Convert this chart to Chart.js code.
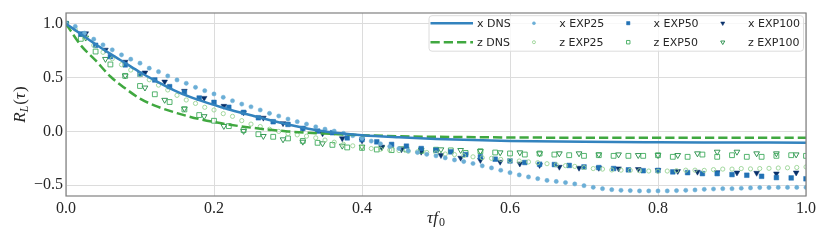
<!DOCTYPE html>
<html>
<head>
<meta charset="utf-8">
<script src="https://cdn.jsdelivr.net/npm/chart.js@4.4.1/dist/chart.umd.min.js"></script>
<style>
  html, body { margin: 0; padding: 0; background: #fff; }
  #wrap { width: 830px; height: 242px; }
</style>
</head>
<body>
<div id="wrap"><canvas id="chart"></canvas></div>
<script>
// Lags (tau * f0) for each data set
const tauDns = [0, 0.02, 0.04, 0.06, 0.08, 0.1, 0.12, 0.15, 0.18, 0.21, 0.25, 0.3, 0.35, 0.4, 0.45, 0.5, 0.6, 0.7, 0.8, 0.9, 1.0];
const tau25 = [0, 0.0125, 0.025, 0.0375, 0.05, 0.0625, 0.075, 0.0875, 0.1, 0.1125, 0.125, 0.1375, 0.15, 0.1625, 0.175, 0.1875,
  0.2, 0.2125, 0.225, 0.2375, 0.25, 0.2625, 0.275, 0.2875, 0.3, 0.3125, 0.325, 0.3375, 0.35, 0.3625, 0.375, 0.3875,
  0.4, 0.4125, 0.425, 0.4375, 0.45, 0.4625, 0.475, 0.4875, 0.5, 0.5125, 0.525, 0.5375, 0.55, 0.5625, 0.575, 0.5875,
  0.6, 0.6125, 0.625, 0.6375, 0.65, 0.6625, 0.675, 0.6875, 0.7, 0.7125, 0.725, 0.7375, 0.75, 0.7625, 0.775, 0.7875,
  0.8, 0.8125, 0.825, 0.8375, 0.85, 0.8625, 0.875, 0.8875, 0.9, 0.9125, 0.925, 0.9375, 0.95, 0.9625, 0.975, 0.9875, 1.0];
const tau50 = [0, 0.02, 0.04, 0.06, 0.08, 0.1, 0.12, 0.14, 0.16, 0.18, 0.2, 0.22, 0.24, 0.26, 0.28, 0.3, 0.32, 0.34,
  0.36, 0.38, 0.4, 0.42, 0.44, 0.46, 0.48, 0.5, 0.52, 0.54, 0.56, 0.58, 0.6, 0.62, 0.64, 0.66, 0.68, 0.7, 0.72, 0.74,
  0.76, 0.78, 0.8, 0.82, 0.84, 0.86, 0.88, 0.9, 0.92, 0.94, 0.96, 0.98, 1.0];
const tau100 = [0, 0.0267, 0.0533, 0.08, 0.1067, 0.1333, 0.16, 0.1867, 0.2133, 0.24, 0.2667, 0.2933, 0.32, 0.3467,
  0.3733, 0.4, 0.4267, 0.4533, 0.48, 0.5067, 0.5333, 0.56, 0.5867, 0.6133, 0.64, 0.6667, 0.6933, 0.72, 0.7467,
  0.7733, 0.8, 0.8267, 0.8533, 0.88, 0.9067, 0.9333, 0.96, 0.9867];

// Autocorrelation R_L
const xDns = [1.0, 0.905, 0.81, 0.72, 0.635, 0.55, 0.475, 0.37, 0.29, 0.225, 0.15, 0.065, 0.0, -0.035, -0.055, -0.07, -0.088, -0.097, -0.101, -0.103, -0.105];
const zDns = [1.0, 0.8, 0.66, 0.51, 0.4, 0.305, 0.24, 0.17, 0.115, 0.075, 0.035, 0.0, -0.02, -0.035, -0.045, -0.05, -0.056, -0.059, -0.06, -0.06, -0.06];

const xExp25 = [1.0, 0.975, 0.913, 0.857, 0.804, 0.758, 0.711, 0.671, 0.634, 0.587,
  0.555, 0.515, 0.478, 0.447, 0.41, 0.378, 0.348, 0.317, 0.285, 0.254,
  0.229, 0.199, 0.168, 0.143, 0.115, 0.09, 0.068, 0.043, 0.021, 0.003,
  -0.018, -0.04, -0.065, -0.09, -0.115, -0.14, -0.159, -0.18, -0.196, -0.213,
  -0.227, -0.246, -0.265, -0.28, -0.298, -0.32, -0.339, -0.361, -0.383, -0.404,
  -0.423, -0.439, -0.455, -0.465, -0.475, -0.488, -0.504, -0.519, -0.532, -0.541,
  -0.547, -0.55, -0.553, -0.553, -0.553, -0.553, -0.55, -0.547, -0.544, -0.538,
  -0.535, -0.532, -0.532, -0.528, -0.525, -0.522, -0.522, -0.52, -0.52, -0.52, -0.52];
const zExp25 = [1.0, 0.95, 0.87, 0.8, 0.735, 0.675, 0.62, 0.57, 0.525, 0.48,
  0.43, 0.385, 0.335, 0.292, 0.26, 0.224, 0.199, 0.165, 0.14, 0.1,
  0.068, 0.045, 0.02, 0.0, -0.02, -0.032, -0.044, -0.06, -0.08, -0.1,
  -0.12, -0.134, -0.145, -0.159, -0.165, -0.172, -0.178, -0.184, -0.19, -0.196,
  -0.2, -0.21, -0.215, -0.225, -0.236, -0.245, -0.25, -0.26, -0.27, -0.275,
  -0.283, -0.29, -0.3, -0.31, -0.318, -0.325, -0.336, -0.345, -0.35, -0.358,
  -0.36, -0.362, -0.365, -0.368, -0.37, -0.368, -0.365, -0.36, -0.36, -0.362,
  -0.355, -0.35, -0.35, -0.345, -0.348, -0.345, -0.343, -0.34, -0.338, -0.335, -0.33];
const xExp50 = [1.0, 0.905, 0.8, 0.695, 0.618, 0.531, 0.478, 0.416, 0.363, 0.31,
  0.27, 0.224, 0.177, 0.127, 0.09, 0.065, 0.028, 0.003, -0.012, -0.06,
  -0.075, -0.097, -0.121, -0.137, -0.159, -0.174, -0.19, -0.215, -0.236, -0.258,
  -0.274, -0.289, -0.305, -0.308, -0.316, -0.33, -0.336, -0.345, -0.357, -0.365,
  -0.362, -0.376, -0.383, -0.392, -0.392, -0.401, -0.407, -0.417, -0.429, -0.432, -0.44];
const zExp50 = [1.0, 0.86, 0.742, 0.622, 0.516, 0.422, 0.345, 0.273, 0.204, 0.152,
  0.099, 0.049, 0.012, -0.026, -0.05, -0.065, -0.088, -0.106, -0.125, -0.149,
  -0.153, -0.168, -0.174, -0.168, -0.18, -0.17, -0.176, -0.2, -0.184, -0.196,
  -0.205, -0.215, -0.205, -0.215, -0.221, -0.227, -0.221, -0.227, -0.227, -0.227,
  -0.221, -0.236, -0.236, -0.215, -0.236, -0.221, -0.236, -0.236, -0.227, -0.221, -0.227];
const xExp100 = [1.0, 0.91, 0.758, 0.646, 0.546, 0.462, 0.376, 0.31, 0.236, 0.175,
  0.126, 0.075, 0.028, -0.019, -0.065, -0.085, -0.143, -0.168, -0.19, -0.221,
  -0.246, -0.267, -0.283, -0.3, -0.314, -0.33, -0.339, -0.34, -0.345, -0.351,
  -0.36, -0.37, -0.376, -0.38, -0.383, -0.386, -0.392, -0.383];
const zExp100 = [1.0, 0.87, 0.672, 0.518, 0.406, 0.292, 0.212, 0.14, 0.049, 0.003,
  -0.044, -0.075, -0.097, -0.112, -0.134, -0.143, -0.15, -0.159, -0.17, -0.168,
  -0.174, -0.184, -0.196, -0.196, -0.205, -0.205, -0.205, -0.215, -0.215, -0.221,
  -0.221, -0.221, -0.205, -0.19, -0.19, -0.205, -0.205, -0.215];

const xTicks = [0, 0.2, 0.4, 0.6, 0.8, 1.0];
const yTicks = [-0.5, 0, 0.5, 1.0];

const pts = (xs, ys) => xs.map((x, i) => ({ x: x, y: ys[i] }));
const fmt = v => (v < 0 ? '\u2212' : '') + Math.abs(v).toFixed(1);

const lineSet = (label, xs, ys, color, dash) => ({
  label: label, data: pts(xs, ys), showLine: true, borderColor: color, borderWidth: 2.5,
  borderDash: dash, pointRadius: 0, cubicInterpolationMode: 'monotone', clip: 0
});
const markSet = (label, xs, ys, color, style, r, open) => ({
  label: label, data: pts(xs, ys), showLine: false, pointStyle: style,
  pointRotation: style === 'triangle' ? 180 : 0, pointRadius: r,
  pointBackgroundColor: open ? 'rgba(0,0,0,0)' : color, pointBorderColor: color,
  pointBorderWidth: open ? 0.9 : 0.5, clip: 0
});

const datasets = [
  lineSet('x DNS', tauDns, xDns, '#3383be', []),
  lineSet('z DNS', tauDns, zDns, '#40a840', [9.25, 4]),
  markSet('x EXP25', tau25, xExp25, '#6baed6', 'circle', 2.1, false),
  markSet('z EXP25', tau25, zExp25, '#98d494', 'circle', 2.1, true),
  markSet('x EXP50', tau50, xExp50, '#2171b5', 'rect', 3.3, false),
  markSet('z EXP50', tau50, zExp50, '#41ab5d', 'rect', 3.4, true),
  markSet('x EXP100', tau100, xExp100, '#08306b', 'triangle', 3.3, false),
  markSet('z EXP100', tau100, zExp100, '#238b45', 'triangle', 3.3, true)
];

// legend layout: column-major like the figure (x row on top, z row below)
const legendOrder = [['x DNS', 'z DNS'], ['x EXP25', 'z EXP25'], ['x EXP50', 'z EXP50'], ['x EXP100', 'z EXP100']];

function mathText(ctx, parts, x, y, center) {
  let w = 0;
  parts.forEach(p => {
    ctx.font = (p.it ? 'italic ' : '') + p.size + 'px "Liberation Serif"';
    p.w = ctx.measureText(p.t).width;
    w += p.w + (p.gap || 0);
  });
  let cx = center ? x - w / 2 : x;
  parts.forEach(p => {
    ctx.font = (p.it ? 'italic ' : '') + p.size + 'px "Liberation Serif"';
    ctx.fillText(p.t, cx, y + (p.dy || 0));
    cx += p.w + (p.gap || 0);
  });
}

const decor = {
  id: 'decor',
  afterDatasetsDraw(chart) {
    const ctx = chart.ctx;
    const a = chart.chartArea;
    ctx.save();
    // frame
    ctx.strokeStyle = '#808080';
    ctx.lineWidth = 1.2;
    ctx.strokeRect(a.left, a.top, a.right - a.left, a.bottom - a.top);

    // legend box
    const bx = a.right - 377, by = a.top + 2.7, bw = 374.5, bh = 35.5;
    ctx.beginPath();
    ctx.roundRect(bx, by, bw, bh, 3);
    ctx.fillStyle = 'rgba(255,255,255,0.8)';
    ctx.fill();
    ctx.strokeStyle = '#dcdcdc';
    ctx.lineWidth = 1;
    ctx.stroke();

    const colX = [1.5, 83.7, 178, 272.5], handleW = 42.5;
    const rows = [by + 7.5, by + 26.5];
    ctx.textBaseline = 'middle';
    legendOrder.forEach((col, ci) => {
      col.forEach((label, ri) => {
        const ds = datasets.find(d => d.label === label);
        const hx = bx + colX[ci];
        const hy = rows[ri];
        if (ds.showLine) {
          ctx.beginPath();
          ctx.setLineDash(ds.borderDash);
          ctx.strokeStyle = ds.borderColor;
          ctx.lineWidth = ds.borderWidth;
          ctx.moveTo(hx, hy);
          ctx.lineTo(hx + handleW, hy);
          ctx.stroke();
          ctx.setLineDash([]);
        } else {
          ctx.fillStyle = ds.pointBackgroundColor;
          ctx.strokeStyle = ds.pointBorderColor;
          ctx.lineWidth = ds.pointBorderWidth;
          Chart.helpers.drawPoint(ctx, {
            pointStyle: ds.pointStyle, rotation: ds.pointRotation,
            radius: ds.pointRadius * 0.72, borderWidth: ds.pointBorderWidth
          }, hx + handleW / 2, hy);
        }
        ctx.fillStyle = '#262626';
        ctx.font = '11px "DejaVu Sans"';
        ctx.fillText(label, hx + handleW + 4, hy + 0.5);
      });
    });
    ctx.restore();
  },
  afterDraw(chart) {
    const ctx = chart.ctx;
    const a = chart.chartArea;
    ctx.save();
    ctx.fillStyle = '#262626';
    ctx.textBaseline = 'alphabetic';
    // x axis title: tau f_0
    mathText(ctx, [
      { t: '\u03c4', it: true, size: 17 },
      { t: 'f', it: true, size: 17, gap: 1 },
      { t: '0', size: 12, dy: 3 }
    ], (a.left + a.right) / 2, 222.5, true);
    // y axis title: R_L(tau)
    ctx.translate(24.5, (a.top + a.bottom) / 2);
    ctx.rotate(-Math.PI / 2);
    mathText(ctx, [
      { t: 'R', it: true, size: 17 },
      { t: 'L', it: true, size: 12, dy: 3, gap: 1 },
      { t: '(', size: 17 },
      { t: '\u03c4', it: true, size: 17, gap: 1 },
      { t: ')', size: 17 }
    ], 0, 0, true);
    ctx.restore();
  }
};

new Chart(document.getElementById('chart'), {
  type: 'scatter',
  data: { datasets: datasets },
  options: {
    responsive: true,
    maintainAspectRatio: false,
    animation: false,
    events: [],
    layout: { padding: { left: 0, right: 24, top: 13, bottom: 0 } },
    plugins: { legend: { display: false }, tooltip: { enabled: false } },
    scales: {
      x: {
        type: 'linear', min: 0, max: 1,
        afterBuildTicks: s => { s.ticks = xTicks.map(v => ({ value: v })); },
        afterFit: s => { s.height = 46; },
        grid: { color: '#dcdcdc', lineWidth: 1, drawTicks: false },
        border: { display: false },
        ticks: {
          padding: 3, color: '#262626', maxRotation: 0,
          font: { family: 'Liberation Serif', size: 16 },
          callback: v => fmt(v)
        }
      },
      y: {
        type: 'linear', min: -0.6, max: 1.1,
        afterBuildTicks: s => { s.ticks = yTicks.map(v => ({ value: v })); },
        afterFit: s => { s.width = 66; },
        grid: { color: '#dcdcdc', lineWidth: 1, drawTicks: false },
        border: { display: false },
        ticks: {
          padding: 3, color: '#262626',
          font: { family: 'Liberation Serif', size: 16 },
          callback: v => fmt(v)
        }
      }
    }
  },
  plugins: [decor]
});
</script>
</body>
</html>
